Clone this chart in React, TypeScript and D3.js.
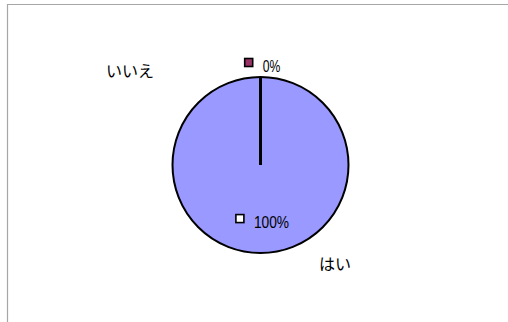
import React from "react";
import * as d3 from "d3";

const categories = ["はい", "いいえ"];
const values = [100, 0];
const colors = ["#9999ff", "#993366"];

const W = 508;
const H = 322;
const cx = 260.5;
const cy = 165;
const R = 88;

export default function App() {
  const pie = d3.pie<number>().value((d) => d).sort(null);
  const arcs = pie(values);
  const arc = d3.arc<d3.PieArcDatum<number>>().innerRadius(0).outerRadius(R);
  const total = d3.sum(values);
  const fmt = (v: number) => `${Math.round((v / total) * 100)}%`;

  // label placement (layout only)
  const pctPos = [
    { dx: 11, r: R * 0.66 },
    { dx: 11, r: R + 10 },
  ];
  const catPos = [
    { x: 335, y: 270 },
    { x: 130, y: 77 },
  ];

  return (
    <svg
      width={W}
      height={H}
      style={{ position: "fixed", left: 0, top: 0, background: "#fff" }}
    >
      <rect x={0} y={0} width={W} height={H} fill="#fff" />
      <line x1={8} y1={4.5} x2={W} y2={4.5} stroke="#a6a6a6" strokeWidth={1.2} />
      <line x1={7.5} y1={4} x2={7.5} y2={H} stroke="#a6a6a6" strokeWidth={1.2} />
      <g transform={`translate(${cx},${cy})`}>
        {arcs.map((a, i) => (
          <path
            key={"s" + i}
            d={arc(a) || ""}
            fill={colors[i]}
            stroke="#000"
            strokeWidth={2}
          />
        ))}
        {arcs.map((a, i) => (
          <line
            key={"b" + i}
            x1={0}
            y1={0}
            x2={R * Math.sin(a.startAngle)}
            y2={-R * Math.cos(a.startAngle)}
            stroke="#000"
            strokeWidth={3}
          />
        ))}
      </g>
      {arcs.map((a, i) => {
        const mid = (a.startAngle + a.endAngle) / 2;
        const p = pctPos[i];
        const x = cx + p.r * Math.sin(mid) + p.dx;
        const y = cy - p.r * Math.cos(mid) + 5;
        const txt = fmt(values[i]);
        const tw = txt.length * 8.8;
        return (
          <g key={"p" + i}>
            <rect
              x={x - tw / 2 - 18}
              y={y - 13.5}
              width={8}
              height={8}
              fill={i === 0 ? "#ffffff" : colors[i]}
              stroke="#000"
              strokeWidth={1.6}
            />
            <text
              x={x - tw / 2}
              y={y}
              fontFamily="Liberation Sans, sans-serif"
              fontSize={16}
              textLength={tw}
              lengthAdjust="spacingAndGlyphs"
              fill="#000"
            >
              {txt}
            </text>
          </g>
        );
      })}
      {categories.map((c, i) => (
        <text
          key={"c" + i}
          x={catPos[i].x}
          y={catPos[i].y}
          textAnchor="middle"
          fontFamily="Noto Sans CJK JP, sans-serif"
          fontSize={16}
          fill="#000"
        >
          {c}
        </text>
      ))}
    </svg>
  );
}
